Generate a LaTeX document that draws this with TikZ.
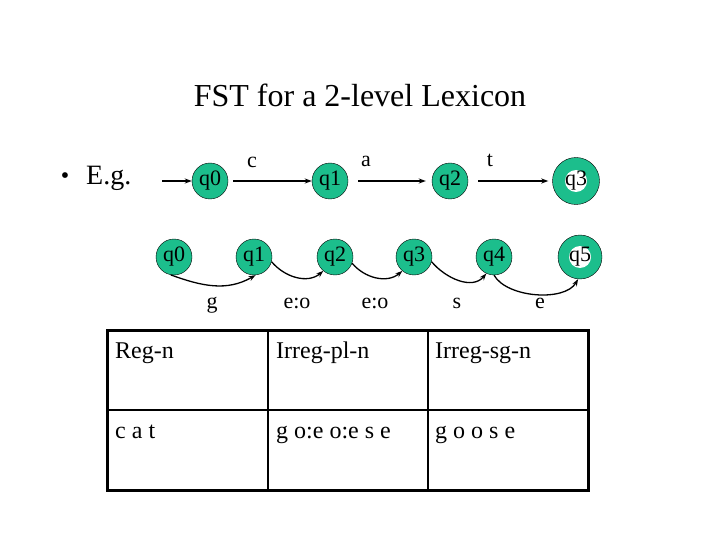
\documentclass[tikz,border=0pt]{standalone}
\usepackage{fontspec}
\setmainfont{Liberation Serif}
\usetikzlibrary{arrows.meta}
\definecolor{stgreen}{RGB}{28,190,140}
\tikzset{
  st/.style={circle, draw, thin, fill=stgreen, minimum size=36pt, inner sep=0pt, font=\fontsize{22}{26}\selectfont},
  accept/.style={st, minimum size=47pt, path picture={\fill[white] (path picture bounding box.center) circle (11pt);}},
  lbl/.style={font=\fontsize{22}{26}\selectfont, anchor=base},
  cell/.style={font=\fontsize{24}{28}\selectfont, anchor=base west, inner sep=0pt},
  arr/.style={-{Stealth[length=7pt,width=5pt]}, line width=1.3pt}
}
\begin{document}
\begin{tikzpicture}[x=1pt,y=-1pt]
    \useasboundingbox (0,0) rectangle (720,540);
    \node[anchor=base, font=\fontsize{32}{38}\selectfont] (title) at (360,107) {FST for a 2-level Lexicon};
    \node[font=\fontsize{24}{28}\selectfont] (bul) at (65,178) {\textbullet};
    \node[anchor=base west, inner sep=0pt, font=\fontsize{28}{32}\selectfont] (eg) at (86,185) {E.g.};
    % cat
    \coordinate (start) at (162,181);
    \node[st] (a0) at (210,181) {q0};
    \node[st] (a1) at (330,181) {q1};
    \node[st] (a2) at (450,181) {q2};
    \node[accept] (a3) at (576,181) {q3};
    \draw[arr] (start) -- (a0);
    \draw[arr, shorten <=5pt] (a0) -- (a1);
    \draw[arr, shorten <=10pt, shorten >=6pt] (a1) -- (a2);
    \draw[arr, shorten <=10pt, shorten >=4pt] (a2) -- (a3);
    \node[lbl] (lc) at (252,168) {c};
    \node[lbl] (la) at (366,167) {a};
    \node[lbl] (lt) at (490,167) {t};
    % goose
    \node[st] (b0) at (174,257) {q0};
    \node[st] (b1) at (254,257) {q1};
    \node[st] (b2) at (335,257) {q2};
    \node[st] (b3) at (414,257) {q3};
    \node[st] (b4) at (494,257) {q4};
    \node[accept, minimum size=44pt] (b5) at (580,257) {q5};
    \draw[arr] (b0.-100) to[out=-20, in=-150] (b1.-85);
    \draw[arr] (b1.-15) to[out=-50, in=-140] (b2.-130);
    \draw[arr] (b2.-20) to[out=-50, in=-140] (b3.-130);
    \draw[arr] (b3.-15) to[out=-50, in=-130] (b4.-115);
    \draw[arr] (b4.-90) to[out=-60, in=-120, looseness=0.8] (b5.-95);
    \node[lbl] (lg) at (212,308) {g};
    \node[lbl] (leo) at (297,308) {e:o};
    \node[lbl] (leo2) at (375,308) {e:o};
    \node[lbl] (ls) at (457,308) {s};
    \node[lbl] (le) at (540,308) {e};
    % table
    \draw[line width=3pt] (107,330) rectangle (588,490);
    \draw[line width=2pt] (268,330) -- (268,490) (428,330) -- (428,490) (107,410) -- (588,410);
    \foreach \x/\head/\word [count=\i] in {115/Reg-n/c a t, 276/Irreg-pl-n/g o:e o:e s e, 435/Irreg-sg-n/g o o s e} {
      \node[cell] (hd\i) at (\x,358) {\head};
      \node[cell] (wd\i) at (\x,438) {\word};
    }
\end{tikzpicture}
\end{document}
